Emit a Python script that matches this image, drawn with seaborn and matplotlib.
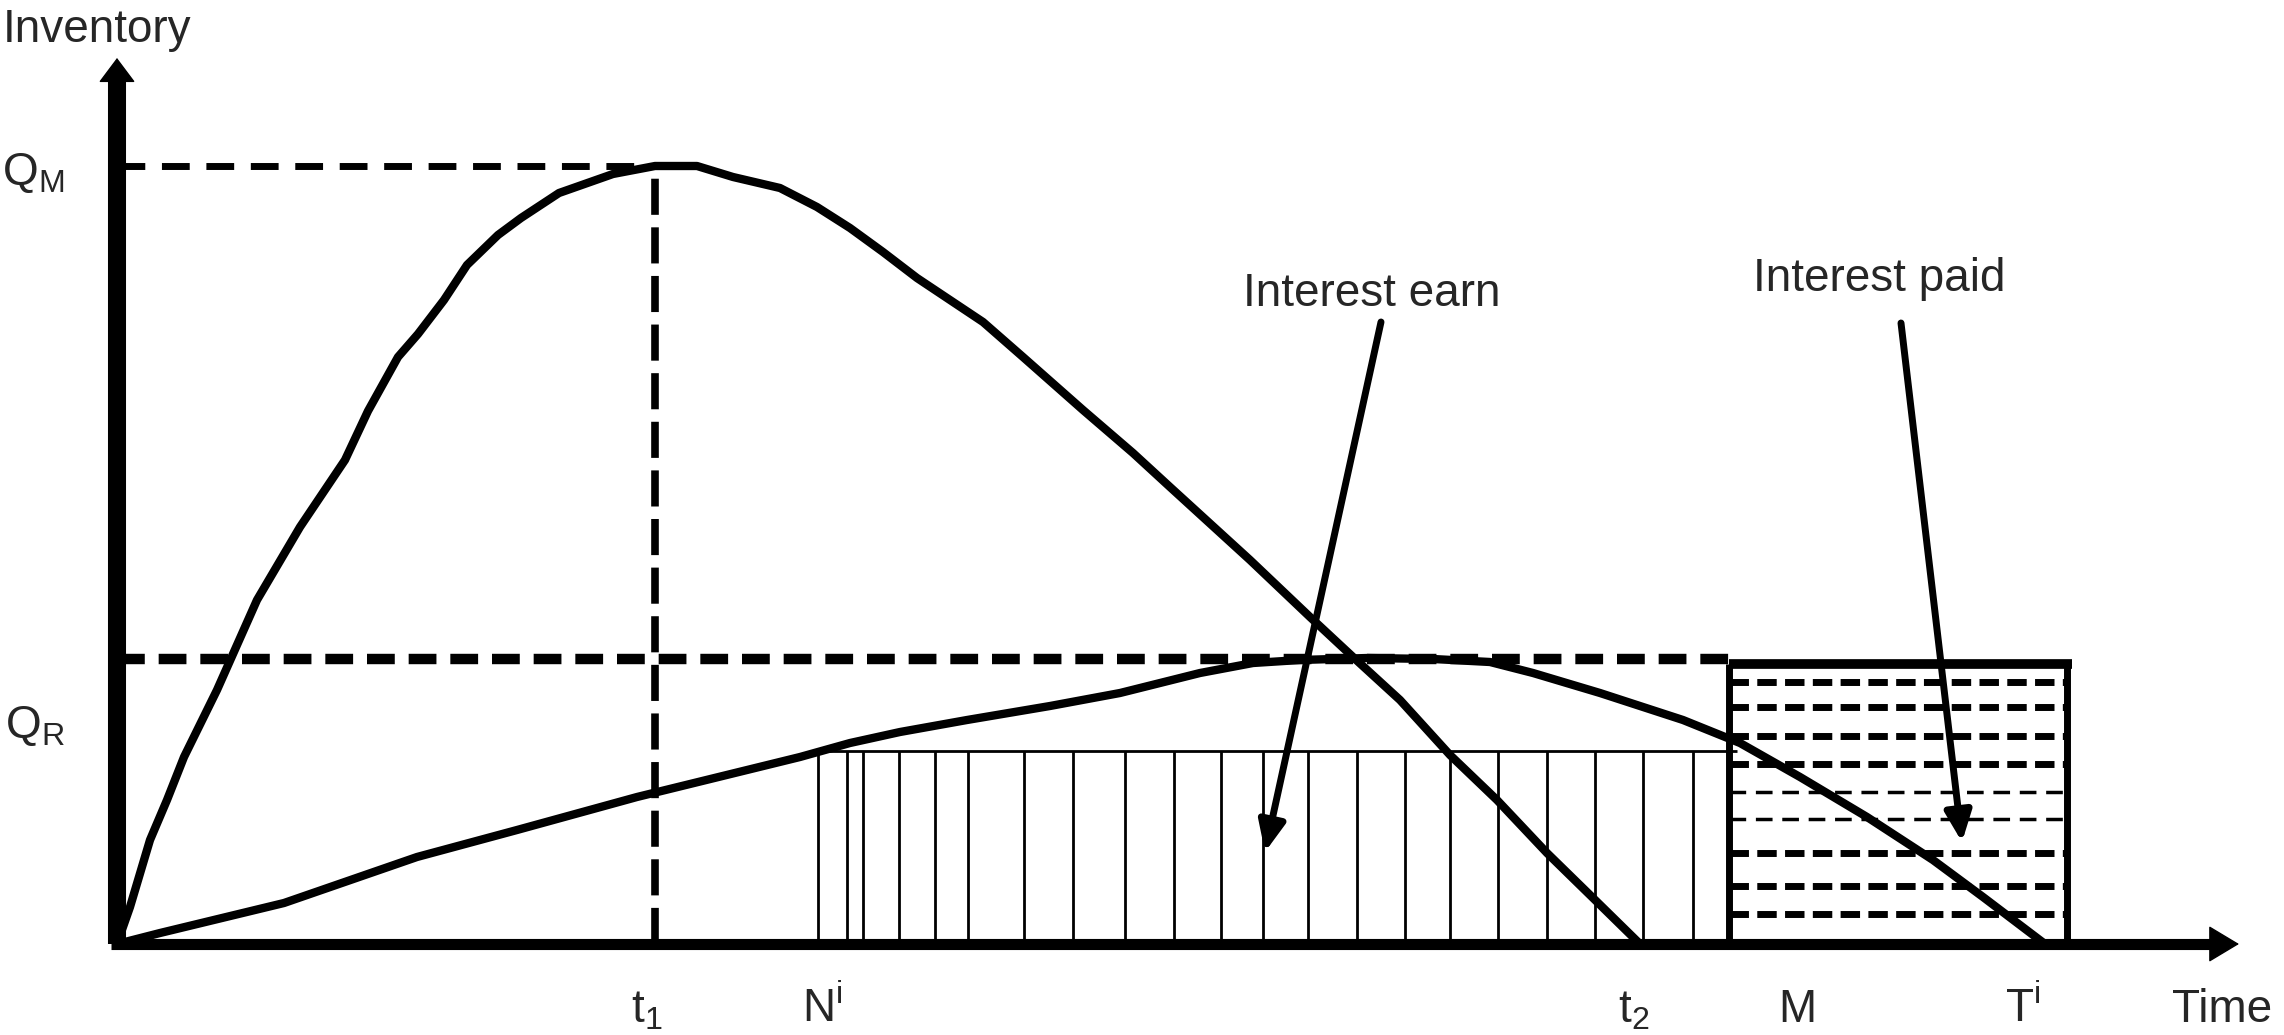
import numpy as np
import pandas as pd
import seaborn as sns
import matplotlib.pyplot as plt

# Pontos (tempo, estoque)
curva1_t = [0, 13, 33, 50, 67, 100, 140, 183, 228, 251, 281, 301, 327, 350, 381, 404,
            442, 496, 538, 580, 616, 663, 700, 733, 766, 800, 833, 866, 906, 966, 1016,
            1053, 1133, 1193, 1236, 1283, 1333, 1380, 1430, 1473, 1523]
curva1_q = [0, 37, 104, 144, 187, 254, 344, 417, 484, 533, 587, 610, 644, 679, 709, 726,
            751, 770, 778, 778, 767, 756, 737, 716, 692, 666, 644, 622, 587, 534, 491,
            457, 384, 327, 287, 244, 189, 144, 91, 49, 0]

curva2_t = [0, 43, 167, 300, 400, 520, 683, 733, 783, 850, 933, 1003, 1083, 1136, 1183,
            1250, 1316, 1373, 1416, 1483, 1566, 1623, 1683, 1750, 1816, 1866, 1928]
curva2_q = [0, 11, 41, 87, 114, 147, 187, 201, 212, 224, 238, 251, 271, 281, 284,
            286, 285, 282, 271, 251, 224, 201, 167, 127, 84, 47, 0]

# Niveis e instantes
q_m = 778
q_r = 285
t1 = 538
n_i = 701
m = 1612
t_fim_caixa = 1950
topo_barras = 193

# Linhas verticais (juros ganhos)
barras_t = [701, 730, 746, 782, 818, 851, 907, 956, 1008, 1057, 1104, 1146, 1191,
            1240, 1288, 1333, 1381, 1430, 1478, 1526, 1576]

# Linhas tracejadas (juros pagos)
linhas_pagas = [262, 237, 208, 180, 152, 125, 91, 58, 30]
linhas_finas = [152, 125]

rotulos_x = ['t$_1$', 'N$^\\mathregular{i}$', 't$_2$', 'M', 'T$^\\mathregular{i}$', 'Time']
rotulos_x_pos = [530, 705, 1517, 1680, 1906, 2105]

df1 = pd.DataFrame({'tempo': curva1_t, 'estoque': curva1_q})
df2 = pd.DataFrame({'tempo': curva2_t, 'estoque': curva2_q})

sns.set_theme(style='white')
plt.rcParams['font.family'] = ['Liberation Sans', 'DejaVu Sans']
plt.rcParams['mathtext.fontset'] = 'custom'
plt.rcParams['mathtext.rm'] = 'Liberation Sans'
plt.rcParams['mathtext.it'] = 'Liberation Sans'
plt.rcParams['lines.scale_dashes'] = False

fig = plt.figure(figsize=(22.84, 10.35), dpi=100)
ax = fig.add_axes([0, 0, 1, 1])
ax.set_xlim(-117, 2167)
ax.set_ylim(-91, 944)
ax.axis('off')

fs = 33

# Curvas
sns.lineplot(data=df1, x='tempo', y='estoque', sort=False, estimator=None,
             color='black', lw=6, solid_joinstyle='round', ax=ax)
sns.lineplot(data=df2, x='tempo', y='estoque', sort=False, estimator=None,
             color='black', lw=6, solid_joinstyle='round', ax=ax)

# Tracejados de referencia
ax.plot([0, t1], [q_m, q_m], color='black', lw=5, ls=(0, (20, 12)))
ax.plot([t1, t1], [0, q_m], color='black', lw=5.5, ls=(0, (26, 9)))
ax.plot([0, m], [q_r, q_r], color='black', lw=7.5, ls=(0, (20, 10)))

# Area de juros ganhos
ax.vlines(barras_t, 0, topo_barras, color='black', lw=2)
ax.hlines(topo_barras, n_i, m + 8, color='black', lw=2)

# Area de juros pagos
for y in linhas_pagas:
    if y in linhas_finas:
        ax.plot([m, t_fim_caixa], [y, y], color='black', lw=2.5, ls=(0, (12, 7)))
    else:
        ax.plot([m, t_fim_caixa], [y, y], color='black', lw=5, ls=(0, (14, 6)))
ax.vlines([m, t_fim_caixa], 0, q_r - 5, color='black', lw=5)
ax.hlines(q_r - 5, m, t_fim_caixa + 5, color='black', lw=7)

# Eixos
ax.plot([0, 0], [0, 866], color='black', lw=13, solid_capstyle='butt')
ax.plot([-6, 2100], [0, 0], color='black', lw=8, solid_capstyle='butt')
ax.annotate('', xy=(0, 886), xytext=(0, 862),
            arrowprops=dict(arrowstyle='-|>,head_length=0.8,head_width=0.6',
                            mutation_scale=20, color='black', lw=1,
                            shrinkA=0, shrinkB=0))
ax.annotate('', xy=(2122, 0), xytext=(2090, 0),
            arrowprops=dict(arrowstyle='-|>,head_length=1.0,head_width=0.6',
                            mutation_scale=20, color='black', lw=1,
                            shrinkA=0, shrinkB=0))

# Textos
ax.text(-20, 902, 'Inventory', fontsize=fs, ha='center', va='baseline')
ax.text(-115, 759, 'Q$_\\mathregular{M}$', fontsize=fs, ha='left', va='baseline')
ax.text(-112, 206, 'Q$_\\mathregular{R}$', fontsize=fs, ha='left', va='baseline')
for rot, x in zip(rotulos_x, rotulos_x_pos):
    ax.text(x, -78, rot, fontsize=fs, ha='center', va='baseline')

ax.text(1255, 638, 'Interest earn', fontsize=fs, ha='center', va='baseline')
ax.text(1762, 653, 'Interest paid', fontsize=fs, ha='center', va='baseline')
ax.annotate('', xy=(1148, 92), xytext=(1264, 622),
            arrowprops=dict(arrowstyle='-|>,head_length=0.9,head_width=0.4',
                            mutation_scale=20, color='black', lw=5,
                            shrinkA=0, shrinkB=0))
ax.annotate('', xy=(1845, 102), xytext=(1784, 621),
            arrowprops=dict(arrowstyle='-|>,head_length=0.9,head_width=0.4',
                            mutation_scale=20, color='black', lw=5,
                            shrinkA=0, shrinkB=0))

plt.savefig('out.png', dpi=100, facecolor='white')
